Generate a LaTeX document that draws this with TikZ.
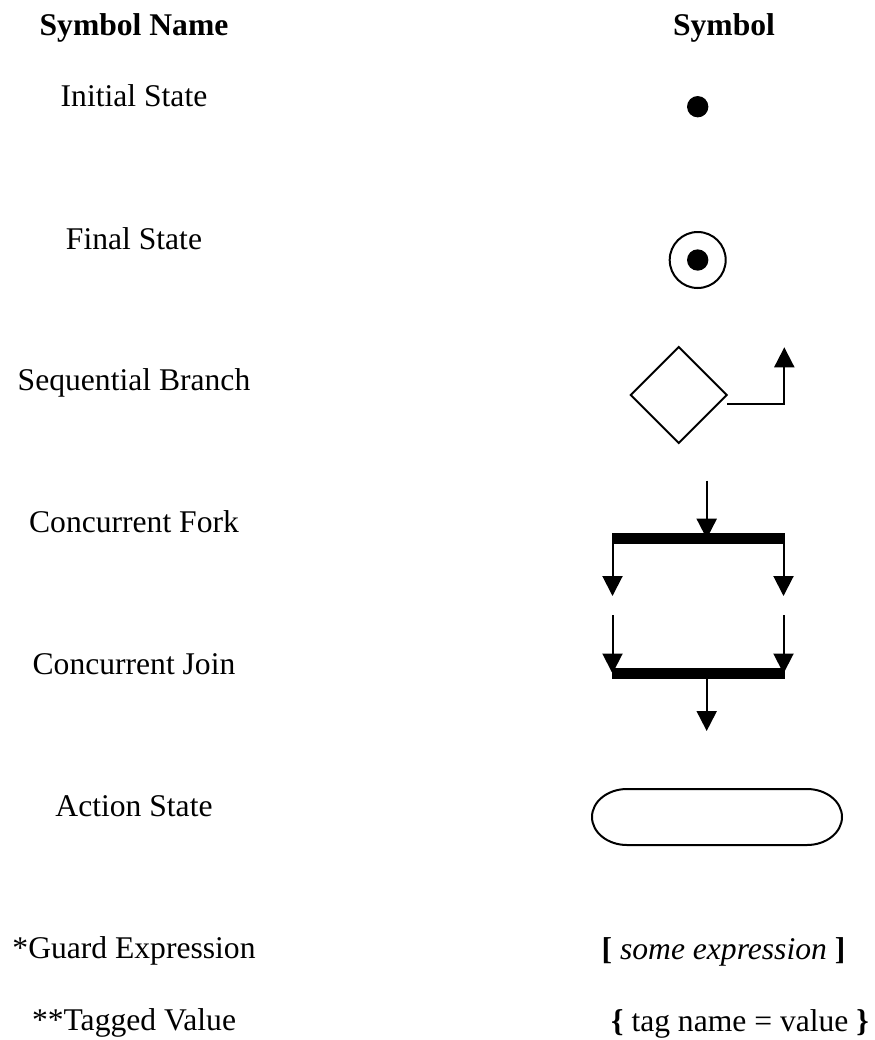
\documentclass[tikz,border=0pt]{standalone}
\usepackage{fontspec}
\setmainfont{Liberation Serif}
\usetikzlibrary{arrows.meta}

\begin{document}
\begin{tikzpicture}[x=0.75pt, y=0.75pt,
  every node/.style={font=\fontsize{23.7}{28}\selectfont, inner sep=0pt, outer sep=0pt},
  label/.style={anchor=base},
  head/.style={anchor=base, font=\fontsize{23.7}{28}\selectfont\bfseries},
  sym/.style={line width=1.5pt, black},
  flow/.style={sym, -{Triangle[length=15pt, width=15pt]}},
  bar/.style={fill=black, minimum width=129.75pt, minimum height=8pt},
  dot/.style={circle, fill=black, minimum size=16pt}
]
% page frame
\useasboundingbox (0,0) rectangle (875,-1040);

% column headings
\node[head] (hname) at (134,-35) {Symbol Name};
\node[head] (hsym)  at (724,-35) {Symbol};

% symbol names
\node[label] (tinit)   at (134,-106.7) {Initial State};
\node[label] (tfinal)  at (134,-249.3) {Final State};
\node[label] (tbranch) at (134,-390.7) {Sequential Branch};
\node[label] (tfork)   at (134,-532.3) {Concurrent Fork};
\node[label] (tjoin)   at (134,-674)   {Concurrent Join};
\node[label] (taction) at (134,-816)   {Action State};
\node[label] (tguard)  at (134,-958.3) {*Guard Expression};
\node[label] (ttag)    at (134,-1030.7) {**Tagged Value};

% initial state
\node[dot] (init) at (697.7,-106.7) {};

% final state
\node[circle, draw, line width=1.5pt, minimum size=42pt] (final) at (697.7,-260) {};
\node[dot] (finaldot) at (final.center) {};

% sequential branch
\coordinate (dl) at (630.7,-395);
\coordinate (dt) at (678.7,-347);
\coordinate (dr) at (726.7,-395);
\coordinate (db) at (678.7,-443);
\draw[sym, line join=miter] (dl) -- (dt) -- (dr) -- (db) -- cycle;
\coordinate (bout) at (727,-404.3);
\coordinate (bend) at (784.3,-347.3);
\draw[flow] (bout) -| (bend);

% concurrent fork
\node[bar] (forkbar) at (698,-538.7) {};
\coordinate (fin)  at (706.7,-480.7);
\coordinate (fl)   at (612.5,-538.7);
\coordinate (fr)   at (783.5,-538.7);
\coordinate (flo)  at (612.5,-596);
\coordinate (fro)  at (783.5,-596);
\draw[flow] (fin) -- (fin |- forkbar.center);
\draw[flow] (fl) -- (flo);
\draw[flow] (fr) -- (fro);

% concurrent join
\node[bar] (joinbar) at (698,-673.5) {};
\coordinate (jl)   at (612.5,-615);
\coordinate (jr)   at (783.5,-615);
\coordinate (jout) at (706.7,-731);
\draw[flow] (jl) -- (jl |- joinbar.center);
\draw[flow] (jr) -- (jr |- joinbar.center);
\draw[flow] (jout |- joinbar.center) -- (jout);

% action state
\draw[sym] (627,-789) -- (807,-789)
  arc[start angle=90, end angle=-90, x radius=26.25pt, y radius=21pt]
  -- (627,-845)
  arc[start angle=270, end angle=90, x radius=26.25pt, y radius=21pt]
  -- cycle;

% guard expression and tagged value
\node[label] (guard) at (723.5,-959) {\textbf{[} \textit{some expression} \textbf{]}};
\node[label] (tag)   at (740,-1031)  {\textbf{\{} tag name = value \textbf{\}}};
\end{tikzpicture}
\end{document}
